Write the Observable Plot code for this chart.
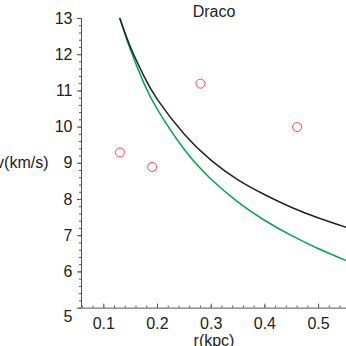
<!DOCTYPE html>
<html><head><meta charset="utf-8">
<script src="https://cdn.jsdelivr.net/npm/d3@7"></script>
<script src="https://cdn.jsdelivr.net/npm/@observablehq/plot@0.6"></script>
<style>body{margin:0;background:#fff;} svg{display:block;}</style>
</head><body><div id="chart"></div>
<script>
const title = "Draco";
const xLabel = "r(kpc)";
const yLabel = "v(km/s)";

// observed points
const obsR = [0.13, 0.19, 0.28, 0.46];
const obsV = [9.3, 8.9, 11.2, 10.0];

// model curves
const modelR = [0.13, 0.15, 0.175, 0.2, 0.25, 0.3, 0.35, 0.4, 0.45, 0.5, 0.552];
const blackV = [13.0, 12.2, 11.4, 10.76, 9.8, 9.08, 8.54, 8.13, 7.78, 7.49, 7.23];
const greenV = [13.0, 12.12, 11.2, 10.48, 9.38, 8.56, 7.93, 7.42, 7.0, 6.64, 6.31];

const xTicks = [0.1, 0.2, 0.3, 0.4, 0.5];
const yTicks = [5, 6, 7, 8, 9, 10, 11, 12, 13];
const xDomain = [0.0585, 0.552];
const yDomain = [5, 13];

const obs = obsR.map((r, i) => ({r, v: obsV[i]}));
const black = modelR.map((r, i) => ({r, v: blackV[i]}));
const green = modelR.map((r, i) => ({r, v: greenV[i]}));
const minorX = d3.range(3, 28).map(i => i / 50);
const minorY = d3.range(25, 66).map(i => i / 5);
const axisColor = "#555";

const chart = Plot.plot({
  width: 346, height: 346,
  marginLeft: 81, marginRight: 0, marginTop: 18, marginBottom: 38.4,
  style: {fontFamily: "'Liberation Sans', Arial, sans-serif", fontSize: "16px", background: "white", color: "#222"},
  x: {domain: xDomain},
  y: {domain: yDomain},
  marks: [
    Plot.ruleX([xDomain[0]], {stroke: axisColor}),
    Plot.ruleY([yDomain[0]], {stroke: axisColor}),
    Plot.axisY({ticks: minorY, tickSize: 2, text: null, label: null, stroke: axisColor}),
    Plot.axisY({ticks: yTicks, tickSize: 4, text: null, label: null, stroke: axisColor}),
    Plot.axisY({ticks: yTicks.filter(d => d > 5), tickSize: 0, tickPadding: 9, label: null, fontSize: 16, fill: "#222"}),
    Plot.axisY({ticks: [5], tickSize: 0, tickPadding: 9, dy: 9, label: null, fontSize: 16, fill: "#222"}),
    Plot.axisX({ticks: minorX, tickSize: -2, text: null, label: null, stroke: axisColor}),
    Plot.axisX({ticks: xTicks, tickSize: -4, text: null, label: null, stroke: axisColor}),
    Plot.axisX({ticks: xTicks, tickSize: 0, tickPadding: 10, label: null, fontSize: 16, fill: "#222", tickFormat: d => String(d)}),
    Plot.line(green, {x: "r", y: "v", stroke: "#00a650", strokeWidth: 1.5, curve: "natural"}),
    Plot.line(black, {x: "r", y: "v", stroke: "#222", strokeWidth: 1.5, curve: "natural"}),
    Plot.dot(obs, {x: "r", y: "v", r: 4.5, stroke: "#ff4a4a", strokeWidth: 1}),
    Plot.text([title], {frameAnchor: "top", dy: -2, lineAnchor: "bottom", fontSize: 16, fill: "#222"}),
    Plot.text([xLabel], {frameAnchor: "bottom", dy: 27, lineAnchor: "top", fontSize: 16, fill: "#222"}),
    Plot.text([yLabel], {frameAnchor: "left", dx: -33, textAnchor: "end", fontSize: 16, fill: "#222"})
  ]
});
document.getElementById("chart").appendChild(chart);
</script>
</body></html>
